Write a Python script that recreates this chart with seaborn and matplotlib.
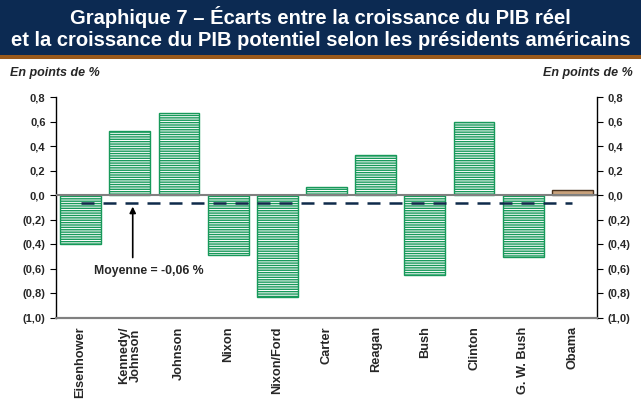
import numpy as np
import pandas as pd
import seaborn as sns
from matplotlib import pyplot as plt
from matplotlib.patches import Rectangle

presidents = ["Eisenhower", "Kennedy/\nJohnson", "Johnson", "Nixon", "Nixon/Ford", "Carter",
              "Reagan", "Bush", "Clinton", "G. W. Bush", "Obama"]
ecarts = [-0.40, 0.52, 0.67, -0.49, -0.83, 0.065, 0.33, -0.65, 0.60, -0.50, 0.04]
moyenne = -0.06
yticks = [0.8, 0.6, 0.4, 0.2, 0.0, -0.2, -0.4, -0.6, -0.8, -1.0]

df = pd.DataFrame({"president": presidents, "ecart": ecarts})

sns.set_style("white")
plt.rcParams["font.family"] = ["Liberation Sans", "DejaVu Sans"]
plt.rcParams["hatch.linewidth"] = 1.0

fig = plt.figure(figsize=(6.41, 4.03), dpi=100)
ax = fig.add_axes([56 / 641, 0.211, 541 / 641, 0.548])

green = "#17995a"
sns.barplot(data=df, x="president", y="ecart", ax=ax, color="white", width=0.83,
            edgecolor=green, linewidth=1.0)
for i, bar in enumerate(ax.patches):
    if presidents[i] == "Obama":
        bar.set_facecolor("#c9a27c")
        bar.set_edgecolor("#4a3320")
        bar.set_hatch("")
    else:
        bar.set_facecolor("white")
        bar.set_hatch("-------")

ax.set_ylim(-1.0, 0.8)
ax.set_xlim(-0.5, len(presidents) - 0.5)
ax.axhline(0, color="#808080", lw=1.5, zorder=3)
ax.plot([0, len(presidents) - 1], [moyenne, moyenne], color="#0f2a4a", lw=1.8,
        dashes=(5.2, 3.6), zorder=4)

ax.annotate("", xy=(1.06, moyenne - 0.01), xytext=(1.06, -0.53),
            arrowprops=dict(arrowstyle="-|>", color="black", lw=1.2, mutation_scale=9))
ax.text(1.38, -0.62, "Moyenne = -0,06 %", ha="center", va="center", fontsize=8.8,
        fontweight="bold")

def fmt(v):
    if abs(v) < 1e-9:
        return "0,0"
    s = f"{abs(v):.1f}".replace(".", ",")
    return f"({s})" if v < 0 else s

ax.set_yticks(yticks)
ax.set_yticklabels([fmt(v) for v in yticks], fontsize=8, fontweight="bold")
ax.tick_params(axis="y", direction="out", length=4, width=0.8, color="black", left=True)
ax2 = ax.twinx()
ax2.set_ylim(ax.get_ylim())
ax2.set_yticks(yticks)
ax2.set_yticklabels([fmt(v) for v in yticks], fontsize=8, fontweight="bold")
ax2.tick_params(axis="y", direction="out", length=4, width=0.8, color="black", right=True)

ax.set_xticks(range(len(presidents)))
ax.set_xticklabels(presidents, rotation=90, fontsize=9.2, fontweight="bold", va="top",
                   linespacing=1.0)
ax.tick_params(axis="x", length=0, pad=6)
ax.set_xlabel("")
ax.set_ylabel("")

for a in (ax, ax2):
    a.spines["top"].set_visible(False)
    a.spines["left"].set_color("black")
    a.spines["right"].set_color("black")
    a.spines["bottom"].set_color("#808080")
    a.spines["bottom"].set_linewidth(1.5)
    a.spines["left"].set_linewidth(1.0)
    a.spines["right"].set_linewidth(1.0)
ax2.spines["left"].set_visible(False)
ax.spines["right"].set_visible(False)

# bandeau du titre
fig.patches.append(Rectangle((0, 1 - 55 / 403), 1, 55 / 403, transform=fig.transFigure,
                             facecolor="#0c2a52", edgecolor="none", zorder=0))
fig.patches.append(Rectangle((0, 1 - 58.5 / 403), 1, 3.5 / 403, transform=fig.transFigure,
                             facecolor="#9a5a1c", edgecolor="none", zorder=0))
fig.text(0.5, 1 - 17 / 403, "Graphique 7 – Écarts entre la croissance du PIB réel",
         ha="center", va="center", color="white", fontsize=14.5, fontweight="bold")
fig.text(0.5, 1 - 40 / 403, "et la croissance du PIB potentiel selon les présidents américains",
         ha="center", va="center", color="white", fontsize=14.5, fontweight="bold")
fig.text(10 / 641, 1 - 73 / 403, "En points de %", ha="left", va="center", fontsize=9,
         fontweight="bold", style="italic")
fig.text(633 / 641, 1 - 73 / 403, "En points de %", ha="right", va="center", fontsize=9,
         fontweight="bold", style="italic")

fig.savefig("out.png", dpi=100)
